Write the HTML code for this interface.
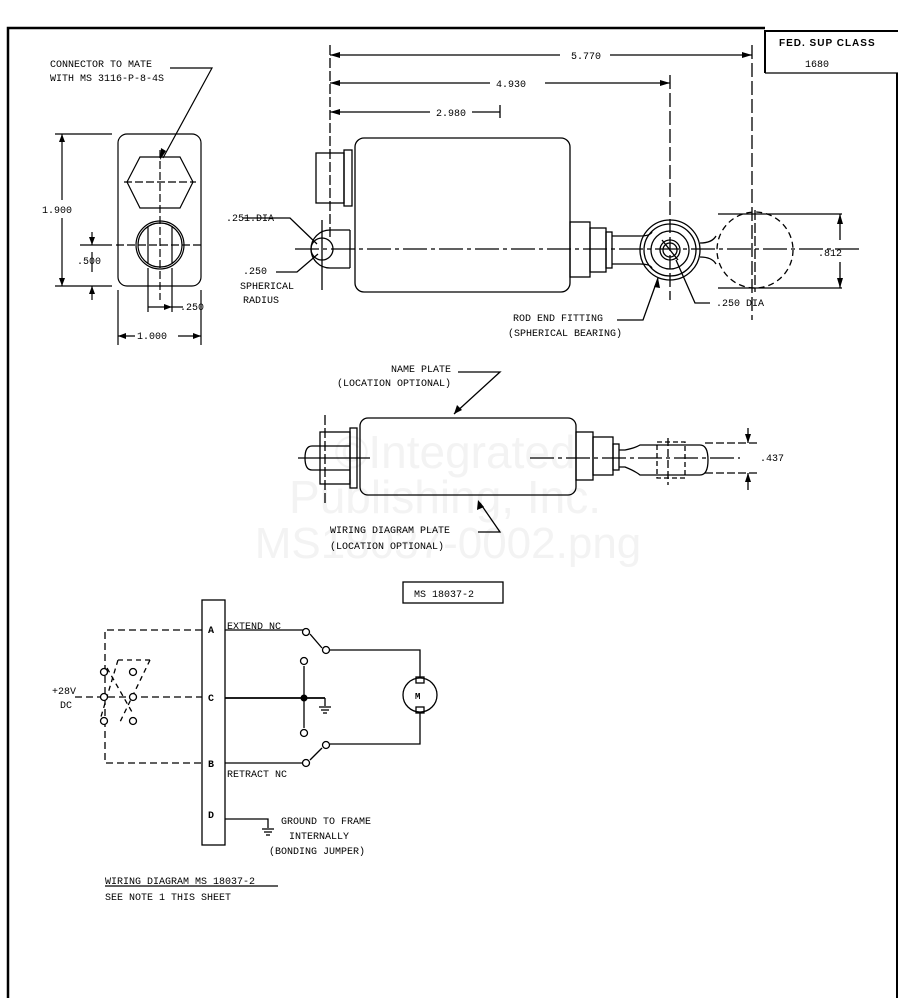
<!DOCTYPE html>
<html><head><meta charset="utf-8"><style>
html,body{margin:0;padding:0;background:#fff;}
svg{display:block;}
text{font-family:"Liberation Mono",monospace;font-size:10px;fill:#000;}
.wm{font-family:"Liberation Sans",sans-serif;font-size:46px;fill:#f3f3f3;}
</style></head><body>
<svg width="900" height="998" viewBox="0 0 900 998" xmlns="http://www.w3.org/2000/svg">
<!-- watermark -->
<text class="wm" x="455" y="468" text-anchor="middle">©Integrated</text>
<text class="wm" x="445" y="513" text-anchor="middle">Publishing, Inc.</text>
<text class="wm" x="448" y="558" text-anchor="middle" style="font-size:44px">MS18037-0002.png</text>

<g stroke="#000" fill="none" stroke-width="1.3">
<path d="M8 998 V28 H765" stroke-width="2.5"/>
<path d="M765 73 V31 H898" stroke-width="2"/>
<path d="M765 73 H898" stroke-width="1.2"/>
<path d="M897 73 V998" stroke-width="2"/>
</g>
<text x="779" y="46" style="font-family:'Liberation Sans',sans-serif;font-weight:bold;font-size:10px;letter-spacing:1px">FED. SUP CLASS</text>
<text x="805" y="67">1680</text>

<!-- End view -->
<g stroke="#000" fill="none" stroke-width="1.2">
<rect x="118" y="134" width="83" height="152" rx="9"/>
<polygon points="140,157 180,157 193,182 180,208 140,208 127,182"/>
<line x1="124" y1="182" x2="196" y2="182" stroke-dasharray="8,3"/>
<line x1="160" y1="150" x2="160" y2="300" stroke-dasharray="8,3"/>
<circle cx="160" cy="245" r="24"/><circle cx="160" cy="245" r="22"/>
<line x1="148" y1="226" x2="148" y2="264"/><line x1="172" y1="226" x2="172" y2="264"/>
<line x1="116" y1="245" x2="204" y2="245" stroke-dasharray="8,3"/>
<line x1="55" y1="134" x2="112" y2="134"/><line x1="55" y1="286" x2="112" y2="286"/>
<line x1="62" y1="134" x2="62" y2="200"/><line x1="62" y1="218" x2="62" y2="286"/>
<line x1="80" y1="245" x2="112" y2="245"/>
<line x1="92" y1="232" x2="92" y2="245"/><line x1="92" y1="286" x2="92" y2="300"/>
<line x1="92" y1="252" x2="92" y2="272"/>
<line x1="118" y1="290" x2="118" y2="345"/><line x1="201" y1="290" x2="201" y2="345"/>
<line x1="118" y1="336" x2="135" y2="336"/><line x1="178" y1="336" x2="201" y2="336"/>
<line x1="148" y1="268" x2="148" y2="312"/><line x1="172" y1="268" x2="172" y2="312"/>
<line x1="148" y1="307" x2="183" y2="307"/>
<polyline points="170,68 212,68 163,158"/>
</g>
<g fill="#000">
<polygon points="160,160 161,148 166,151"/>
<polygon points="62,134 59,142 65,142"/><polygon points="62,286 59,278 65,278"/>
<polygon points="92,245 89,237 95,237"/><polygon points="92,286 89,294 95,294"/>
<polygon points="118,336 126,333 126,339"/><polygon points="201,336 193,333 193,339"/>
<polygon points="172,307 164,304 164,310"/>
</g>
<text x="50" y="67">CONNECTOR TO MATE</text>
<text x="50" y="81">WITH MS 3116-P-8-4S</text>
<text x="42" y="213">1.900</text>
<text x="77" y="264">.500</text>
<text x="180" y="310">.250</text>
<text x="137" y="339">1.000</text>

<!-- Top view actuator -->
<g stroke="#000" fill="none" stroke-width="1.3">
<line x1="330" y1="45" x2="330" y2="240" stroke-dasharray="10,3"/>
<line x1="752" y1="45" x2="752" y2="320" stroke-dasharray="14,4"/>
<line x1="670" y1="75" x2="670" y2="300" stroke-dasharray="14,4"/>
<line x1="330" y1="55" x2="560" y2="55"/><line x1="610" y1="55" x2="752" y2="55"/>
<line x1="330" y1="83" x2="490" y2="83"/><line x1="545" y1="83" x2="670" y2="83"/>
<line x1="330" y1="112" x2="430" y2="112"/><line x1="472" y1="112" x2="500" y2="112"/>
<line x1="500" y1="105" x2="500" y2="118"/>
<rect x="355" y="138" width="215" height="154" rx="9"/>
<rect x="316" y="153" width="28" height="50"/>
<rect x="344" y="150" width="8" height="56"/>
<line x1="350" y1="230" x2="350" y2="268"/>
<path d="M350 230 H330 A19 19 0 1 0 330 268 H350"/>
<circle cx="322" cy="249" r="11"/>
<line x1="295" y1="249" x2="860" y2="249" stroke-dasharray="24,4,4,4"/>
<line x1="322" y1="220" x2="322" y2="290"/>
<rect x="570" y="222" width="20" height="55"/>
<rect x="590" y="228" width="16" height="44"/>
<rect x="606" y="232" width="6" height="36"/>
<path d="M612 236 H640 Q650 236 652 232"/><path d="M612 264 H640 Q650 264 652 268"/>
<circle cx="670" cy="250" r="30"/><circle cx="670" cy="250" r="26"/>
<circle cx="670" cy="250" r="19"/><circle cx="670" cy="250" r="10"/><circle cx="670" cy="250" r="7"/>
<line x1="662" y1="240" x2="678" y2="260"/>
<path d="M700 243 Q712 243 716 236" /><path d="M700 257 Q712 257 716 264"/>
<circle cx="755" cy="250" r="38" stroke-dasharray="6,4"/>
<line x1="755" y1="210" x2="755" y2="292" stroke-dasharray="10,3"/>
<line x1="718" y1="214" x2="842" y2="214"/><line x1="718" y1="288" x2="842" y2="288"/>
<line x1="840" y1="214" x2="840" y2="240"/><line x1="840" y1="262" x2="840" y2="288"/>
<polyline points="243,218 290,218 317,244"/>
<polyline points="276,272 297,272 318,254"/>
<polyline points="617,320 643,320 658,278"/>
<polyline points="710,303 695,303 676,260"/>
</g>
<g fill="#000">
<polygon points="330,55 340,52 340,58"/><polygon points="752,55 742,52 742,58"/>
<polygon points="330,83 340,80 340,86"/><polygon points="670,83 660,80 660,86"/>
<polygon points="330,112 340,109 340,115"/>
<polygon points="840,214 837,224 843,224"/><polygon points="840,288 837,278 843,278"/>
<polygon points="658,278 654,287 660,288"/>
</g>
<text x="571" y="59">5.770</text>
<text x="496" y="87">4.930</text>
<text x="436" y="116">2.980</text>
<text x="226" y="221">.251.DIA</text>
<text x="243" y="274">.250</text>
<text x="240" y="289">SPHERICAL</text>
<text x="243" y="303">RADIUS</text>
<text x="513" y="321">ROD END FITTING</text>
<text x="508" y="336">(SPHERICAL BEARING)</text>
<text x="716" y="306">.250 DIA</text>
<text x="818" y="256">.812</text>

<!-- side view -->
<g stroke="#000" fill="none" stroke-width="1.3">
<rect x="360" y="418" width="216" height="77" rx="8"/>
<rect x="320" y="432" width="30" height="52"/>
<rect x="350" y="428" width="7" height="60"/>
<path d="M350 446 H312 Q305 446 305 458 Q305 470 312 470 H350"/>
<line x1="325" y1="415" x2="325" y2="503" stroke-dasharray="10,3"/>
<line x1="298" y1="458" x2="370" y2="458"/>
<line x1="530" y1="458" x2="740" y2="458" stroke-dasharray="24,4,4,4"/>
<rect x="576" y="432" width="17" height="48"/>
<rect x="593" y="437" width="20" height="38"/>
<rect x="613" y="444" width="6" height="26"/>
<path d="M619 450 H625 Q635 448 640 445 H700 Q708 445 708 460 Q708 475 700 475 H640 Q635 471 625 467 H619"/>
<rect x="657" y="442" width="28" height="36" stroke-dasharray="5,3"/>
<line x1="668" y1="438" x2="668" y2="485" stroke-dasharray="8,3"/>
<line x1="705" y1="443" x2="760" y2="443" stroke-dasharray="8,3"/>
<line x1="705" y1="473" x2="760" y2="473" stroke-dasharray="8,3"/>
<line x1="748" y1="428" x2="748" y2="443"/><line x1="748" y1="473" x2="748" y2="490"/>
<polyline points="458,372 500,372 454,414"/>
<polyline points="478,532 500,532 480,503"/>
</g>
<g fill="#000">
<polygon points="748,443 745,434 751,434"/><polygon points="748,473 745,482 751,482"/>
<polygon points="454,414 457,405 462,410"/>
<polygon points="478,500 477,510 484,507"/>
</g>
<text x="391" y="372">NAME PLATE</text>
<text x="337" y="386">(LOCATION OPTIONAL)</text>
<text x="760" y="461">.437</text>
<text x="330" y="533">WIRING DIAGRAM PLATE</text>
<text x="330" y="549">(LOCATION OPTIONAL)</text>

<rect x="403" y="582" width="100" height="21" fill="none" stroke="#000" stroke-width="1.3"/>
<text x="414" y="597">MS 18037-2</text>

<!-- wiring diagram -->
<g stroke="#000" fill="none" stroke-width="1.3">
<rect x="202" y="600" width="23" height="245"/>
<path d="M202 630 H105 V763 H202" stroke-dasharray="7,4"/>
<line x1="75" y1="697" x2="202" y2="697" stroke-dasharray="7,4"/>
<path d="M118 660 L150 660 M118 660 L100 720 M150 660 L120 722" stroke-dasharray="5,4"/>
<line x1="107" y1="668" x2="132" y2="712" stroke-dasharray="5,4"/>
<circle cx="104" cy="672" r="3.5" fill="#fff"/><circle cx="133" cy="672" r="3.5" fill="#fff"/>
<circle cx="104" cy="697" r="3.5" fill="#fff"/><circle cx="133" cy="697" r="3.5" fill="#fff"/>
<circle cx="104" cy="721" r="3.5" fill="#fff"/><circle cx="133" cy="721" r="3.5" fill="#fff"/>
<line x1="225" y1="630" x2="303" y2="630"/>
<line x1="310" y1="634" x2="322" y2="648"/>
<circle cx="306" cy="632" r="3.5"/><circle cx="326" cy="650" r="3.5"/>
<path d="M330 650 H420 V678"/>
<circle cx="420" cy="695" r="17"/>
<rect x="416" y="677" width="8" height="6"/><rect x="416" y="707" width="8" height="6"/>
<path d="M420 713 V744 H330"/>
<circle cx="326" cy="745" r="3.5"/><circle cx="306" cy="763" r="3.5"/>
<line x1="310" y1="760" x2="322" y2="748"/>
<line x1="225" y1="763" x2="302" y2="763"/>
<line x1="225" y1="698" x2="325" y2="698" stroke-width="1.8"/>
<line x1="304" y1="666" x2="304" y2="728"/>
<circle cx="304" cy="661" r="3.5"/><circle cx="304" cy="733" r="3.5"/>
<line x1="325" y1="698" x2="325" y2="706"/>
<line x1="319" y1="707" x2="331" y2="707"/><line x1="321" y1="710" x2="329" y2="710"/><line x1="323" y1="713" x2="327" y2="713"/>
<path d="M225 819 H268 V828"/>
<line x1="262" y1="829" x2="274" y2="829"/><line x1="264" y1="832" x2="272" y2="832"/><line x1="266" y1="835" x2="270" y2="835"/>
<line x1="105" y1="886" x2="278" y2="886"/>
</g>
<circle cx="304" cy="698" r="3.5" fill="#000"/>
<text x="208" y="633" style="font-weight:bold">A</text>
<text x="208" y="701" style="font-weight:bold">C</text>
<text x="208" y="767" style="font-weight:bold">B</text>
<text x="208" y="818" style="font-weight:bold">D</text>
<text x="227" y="629">EXTEND  NC</text>
<text x="227" y="777">RETRACT NC</text>
<text x="415" y="699" style="font-weight:bold;font-size:9px">M</text>
<text x="52" y="694">+28V</text>
<text x="60" y="708">DC</text>
<text x="281" y="824">GROUND TO FRAME</text>
<text x="289" y="839">INTERNALLY</text>
<text x="269" y="854">(BONDING JUMPER)</text>
<text x="105" y="884">WIRING DIAGRAM MS 18037-2</text>
<text x="105" y="900">SEE NOTE 1 THIS SHEET</text>
</svg>
</body></html>
